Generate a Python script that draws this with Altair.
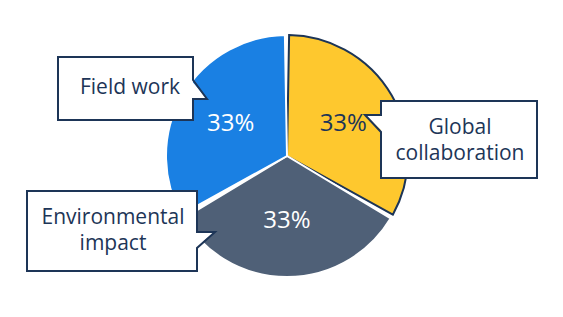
import altair as alt
import pandas as pd

# ---- data ----
categories = ["Global collaboration", "Environmental impact", "Field work"]
shares = [33, 33, 33]
callout_labels = ["Global\ncollaboration", "Environmental\nimpact", "Field work"]

# ---- style ----
W, H = 563, 317
NAVY = "#1d3557"
colors = ["#fec82e", "#4f6077", "#1a80e3"]
FONT = "Open Sans"
CX, CY, R = 287, 156, 121

pie_df = pd.DataFrame({"category": categories, "value": shares, "order": [0, 1, 2]})

# callout geometry (annotation layout, pixel space)
boxes = pd.DataFrame({
    "category": categories,
    "x": [381, 27, 58], "x2": [537, 197, 193],
    "y": [101, 191, 57], "y2": [178, 271, 120],
    "tx": [460, 113, 130], "ty": [128, 218, 88],
    "label": callout_labels,
})
outline_pts = {
    "Global collaboration": [(381, 101), (537, 101), (537, 178), (381, 178), (381, 132), (365, 115), (381, 115), (381, 101)],
    "Environmental impact": [(27, 191), (197, 191), (197, 232), (215, 232), (197, 248), (197, 271), (27, 271), (27, 191)],
    "Field work": [(58, 57), (193, 57), (193, 80), (207, 99), (193, 99), (193, 120), (58, 120), (58, 57)],
}
outline_df = pd.DataFrame([
    {"category": c, "idx": i, "x": p[0], "y": p[1]}
    for c, pts in outline_pts.items() for i, p in enumerate(pts)
])
pointer_df = pd.DataFrame([
    {"category": "Global collaboration", "x": 365, "y": 115, "y2": 115},
    {"category": "Global collaboration", "x": 383, "y": 115, "y2": 132},
    {"category": "Environmental impact", "x": 195, "y": 232, "y2": 248},
    {"category": "Environmental impact", "x": 215, "y": 232, "y2": 232},
    {"category": "Field work", "x": 191, "y": 80, "y2": 99},
    {"category": "Field work", "x": 207, "y": 99, "y2": 99},
])

xs = alt.Scale(domain=[0, W], nice=False, zero=False)
ys = alt.Scale(domain=[0, H], nice=False, zero=False, reverse=True)

theta = alt.Theta("value:Q", stack=True)
order = alt.Order("order:Q")

arcs = alt.Chart(pie_df).mark_arc(outerRadius=R, padAngle=0.035, strokeWidth=2).encode(
    theta=theta, order=order,
    color=alt.Color("category:N", scale=alt.Scale(domain=categories, range=colors), legend=None),
    stroke=alt.condition(alt.datum.category == "Global collaboration", alt.value(NAVY), alt.value("white")),
    x=alt.value(CX), y=alt.value(CY),
)

pct = alt.Chart(pie_df).transform_calculate(
    label="format(datum.value, 'd') + '%'"
).mark_text(radius=65, font=FONT, fontSize=24, align="center", baseline="middle").encode(
    theta=theta, order=order, text="label:N",
    color=alt.condition(alt.datum.category == "Global collaboration", alt.value(NAVY), alt.value("white")),
    x=alt.value(CX), y=alt.value(CY),
)

box_fill = alt.Chart(boxes).mark_rect(fill="white", strokeWidth=0).encode(
    x=alt.X("x:Q", scale=xs, axis=None), x2="x2:Q",
    y=alt.Y("y:Q", scale=ys, axis=None), y2="y2:Q",
)

pointer_fill = alt.Chart(pointer_df).mark_area(color="white", interpolate="linear").encode(
    x=alt.X("x:Q", scale=xs, axis=None),
    y=alt.Y("y:Q", scale=ys, axis=None), y2="y2:Q",
    detail="category:N",
)

outline = alt.Chart(outline_df).mark_line(color=NAVY, strokeWidth=2, strokeJoin="miter", strokeCap="square").encode(
    x=alt.X("x:Q", scale=xs, axis=None),
    y=alt.Y("y:Q", scale=ys, axis=None),
    detail="category:N", order=alt.Order("idx:Q"),
)

texts = alt.Chart(boxes).mark_text(
    font=FONT, fontSize=21, fontWeight=500, color=NAVY, align="center", baseline="middle",
    lineBreak="\n", lineHeight=26
).encode(
    x=alt.X("tx:Q", scale=xs, axis=None),
    y=alt.Y("ty:Q", scale=ys, axis=None),
    text="label:N",
)

chart = alt.layer(arcs, pct, box_fill, pointer_fill, outline, texts).properties(
    width=W, height=H, padding=0, autosize=alt.AutoSizeParams(type="none"),
    background="white",
).configure_view(stroke=None)

chart.save("out.html", embed_options={"renderer": "svg", "actions": False})
